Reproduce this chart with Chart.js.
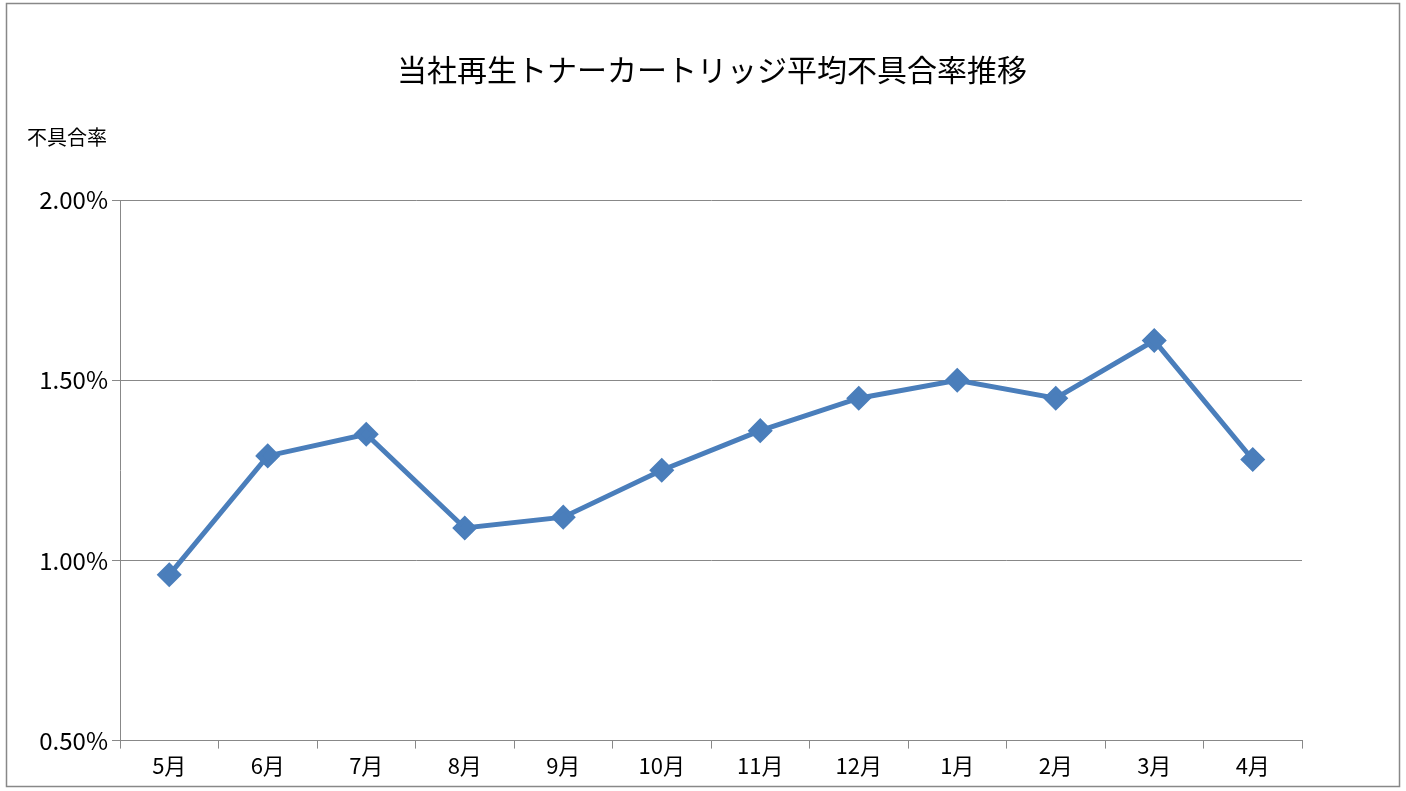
<!DOCTYPE html>
<html><head><meta charset="utf-8">
<script src="https://cdn.jsdelivr.net/npm/chart.js@4"></script>
<style>html,body{margin:0;padding:0;background:#fff}#w{width:1406px;height:791px}</style>
</head><body><div id="w"><canvas id="c"></canvas></div>
<script>
const categories=['5月','6月','7月','8月','9月','10月','11月','12月','1月','2月','3月','4月'];
const rates=[0.96,1.29,1.35,1.09,1.12,1.25,1.36,1.45,1.50,1.45,1.61,1.28];
const yTicks=[0.5,1.0,1.5,2.0];
const FONT='"Noto Sans CJK JP","Noto Sans",sans-serif';
const frame={id:'frame',afterDraw(ch){const c=ch.ctx;c.save();c.strokeStyle='#888';c.lineWidth=1.5;c.strokeRect(6.5,3.5,1393,783);
c.fillStyle='#000';c.font='20px '+FONT;c.textAlign='left';c.textBaseline='middle';c.fillText('不具合率',27,137);
c.font='30px '+FONT;c.textAlign='center';c.fillText('当社再生トナーカートリッジ平均不具合率推移',712,70);c.restore();}};
new Chart(document.getElementById('c'),{type:'line',
data:{labels:categories,datasets:[{data:rates,borderColor:'#4a7ebb',backgroundColor:'#4a7ebb',borderWidth:5,pointStyle:'rectRot',pointRadius:9,pointHoverRadius:9,tension:0}]},
options:{responsive:true,maintainAspectRatio:false,animation:false,devicePixelRatio:1,
layout:{padding:{left:0,right:104,top:200,bottom:8}},
plugins:{legend:{display:false},tooltip:{enabled:false}},
scales:{
x:{offset:true,grid:{display:true,drawOnChartArea:false,offset:true,color:'#888',tickLength:8},border:{color:'#888'},ticks:{color:'#000',font:{size:22,family:FONT},padding:4}},
y:{min:0.5,max:2.0,afterBuildTicks(s){s.ticks=yTicks.map(v=>({value:v}));},grid:{color:'#888',tickLength:8},border:{color:'#888'},
ticks:{color:'#000',font:{size:24,family:FONT},padding:4,callback:v=>v.toFixed(2)+'%'},afterFit(s){s.width=120;}}
}},plugins:[frame]});
</script></body></html>
